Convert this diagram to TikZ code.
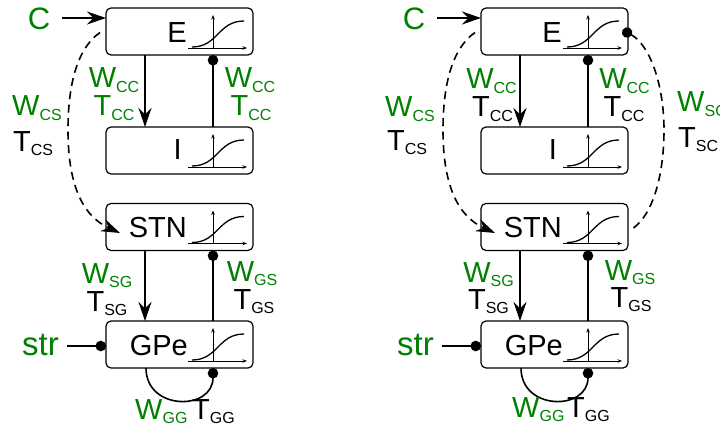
\documentclass[tikz,border=0pt]{standalone}
\usepackage{fontspec}
\setmainfont{Liberation Sans}
\usetikzlibrary{arrows.meta,calc}
\definecolor{gr}{RGB}{0,128,0}
\newcommand\subl[1]{\raisebox{-4.5pt}{\fontsize{16pt}{16pt}\selectfont #1}}
\newcommand\sigmoidin[1]{%
  \begin{scope}[shift={(#1.north west)}]
    \draw[axisl] (82,40) -- (141,40);
    \draw[axisl] (107,40) -- (107,7);
    \draw[sigl] (86,39) .. controls (112,39) and (112,13) .. (138,13);
  \end{scope}}
\begin{document}
\begin{tikzpicture}[x=1pt,y=-1pt,
  box/.style={draw,rounded corners=5pt,minimum width=147pt,minimum height=47pt,inner sep=0pt,outer sep=0pt,line width=1.2pt},
  nlab/.style={font=\fontsize{29pt}{29pt}\selectfont,inner sep=0pt,anchor=base east},
  lab/.style={font=\fontsize{29pt}{29pt}\selectfont,inner sep=0pt,anchor=base},
  big/.style={inner sep=0pt,text=gr},
  exc/.style={line width=1.6pt,-{Stealth[length=19pt,width=13pt,inset=6.5pt]}},
  inh/.style={line width=1.6pt,-{Circle[length=10.5pt]}},
  dsh/.style={line width=1.6pt,dash pattern=on 8pt off 5.5pt},
  axisl/.style={line width=0.8pt,-{Stealth[length=4.5pt,width=3.5pt]}},
  sigl/.style={line width=1.3pt}]
\clip (0,0) rectangle (720,433);
% ---------------- left panel ----------------
\node[box] (E1) at (179.5,31.5) {};
\node[box] (I1) at (179.5,150.5) {};
\node[box] (S1) at (179.5,227) {};
\node[box] (G1) at (179.5,344.5) {};
\node[nlab] (E1t) at (187,43) {E};
\node[nlab] (I1t) at (182,160) {I};
\node[nlab] (S1t) at (187,237) {STN};
\node[nlab] (G1t) at (188,355) {GPe};
\sigmoidin{E1}\sigmoidin{I1}\sigmoidin{S1}\sigmoidin{G1}
\draw[exc] ($(E1.south west)+(39,0)$) -- ($(I1.north west)+(39,0)$);
\draw[inh] ($(I1.north west)+(107,0)$) -- ($(E1.south west)+(107,0)$);
\draw[exc] ($(S1.south west)+(39,0)$) -- ($(G1.north west)+(39,0)$);
\draw[inh] ($(G1.north west)+(107,0)$) -- ($(S1.south west)+(107,0)$);
\draw[inh] ($(G1.south west)+(40,0)$) .. controls +(0,43) and +(0,43) .. ($(G1.south west)+(107,0)$);
\node[big,font=\fontsize{31pt}{31pt}\selectfont,anchor=base] (C1) at (39,30) {C};
\coordinate (C1a) at (62,18);
\draw[exc] (C1a) -- ($(E1.north west)+(0,10)$);
\node[big,font=\fontsize{33pt}{33pt}\selectfont,anchor=base east] (str1) at (59,355) {str};
\coordinate (str1a) at (67,346);
\draw[inh] (str1a) -- (G1.west |- str1a);
\draw[dsh,-{Stealth[length=19pt,width=13pt,inset=6.5pt]}] ($(E1.west)+(-6,1)$) .. controls (75,50) and (68,90) .. (68,130) .. controls (68,180) and (80,215) .. ($(S1.west)+(14,6)$);
\node[lab,anchor=base west,text=gr] (w1cs) at (12,116) {W\subl{CS}};
\node[lab,anchor=base west] (t1cs) at (13,151) {T\subl{CS}};
\node[lab,text=gr] (w1cca) at (114,88) {W\subl{CC}};
\node[lab,text=gr] (t1cca) at (114,116) {T\subl{CC}};
\node[lab,text=gr] (w1ccb) at (250,88) {W\subl{CC}};
\node[lab,text=gr] (t1ccb) at (251,116) {T\subl{CC}};
\node[lab,text=gr] (w1sg) at (107,283) {W\subl{SG}};
\node[lab] (t1sg) at (107,311) {T\subl{SG}};
\node[lab,text=gr] (w1gs) at (252,281) {W\subl{GS}};
\node[lab] (t1gs) at (254,309) {T\subl{GS}};
\node[lab,anchor=base west,text=gr] (w1gg) at (135,419) {W\subl{GG}};
\node[lab,anchor=base west] (t1gg) at (192,419) {T\subl{GG}};
% ---------------- right panel ----------------
\node[box] (E2) at (554.5,31.5) {};
\node[box] (I2) at (554.5,150.5) {};
\node[box] (S2) at (554.5,227) {};
\node[box] (G2) at (554.5,344.5) {};
\node[nlab] (E2t) at (562,43) {E};
\node[nlab] (I2t) at (557,160) {I};
\node[nlab] (S2t) at (562,237) {STN};
\node[nlab] (G2t) at (563,355) {GPe};
\sigmoidin{E2}\sigmoidin{I2}\sigmoidin{S2}\sigmoidin{G2}
\draw[exc] ($(E2.south west)+(39,0)$) -- ($(I2.north west)+(39,0)$);
\draw[inh] ($(I2.north west)+(107,0)$) -- ($(E2.south west)+(107,0)$);
\draw[exc] ($(S2.south west)+(39,0)$) -- ($(G2.north west)+(39,0)$);
\draw[inh] ($(G2.north west)+(107,0)$) -- ($(S2.south west)+(107,0)$);
\draw[inh] ($(G2.south west)+(40,0)$) .. controls +(0,43) and +(0,43) .. ($(G2.south west)+(107,0)$);
\node[big,font=\fontsize{31pt}{31pt}\selectfont,anchor=base] (C2) at (414,30) {C};
\coordinate (C2a) at (437,18);
\draw[exc] (C2a) -- ($(E2.north west)+(0,10)$);
\node[big,font=\fontsize{33pt}{33pt}\selectfont,anchor=base east] (str2) at (434,355) {str};
\coordinate (str2a) at (442,346);
\draw[inh] (str2a) -- (G2.west |- str2a);
\draw[dsh,-{Stealth[length=19pt,width=13pt,inset=6.5pt]}] ($(E2.west)+(-6,1)$) .. controls (450,50) and (443,90) .. (443,130) .. controls (443,180) and (455,215) .. ($(S2.west)+(14,6)$);
\draw[dsh,-{Circle[length=10.5pt]}] ($(S2.east)+(5.5,1)$) .. controls (655,212) and (664,170) .. (664,130) .. controls (664,85) and (650,45) .. ($(E2.east)+(-5.5,-1.5)$);
\node[lab,anchor=base west,text=gr] (w2cs) at (385,117) {W\subl{CS}};
\node[lab,anchor=base west] (t2cs) at (387,150) {T\subl{CS}};
\node[lab,text=gr] (w2cca) at (491.5,89) {W\subl{CC}};
\node[lab] (t2cca) at (492.5,117) {T\subl{CC}};
\node[lab,text=gr] (w2ccb) at (624.5,89) {W\subl{CC}};
\node[lab] (t2ccb) at (624,117) {T\subl{CC}};
\node[lab,anchor=base west,text=gr] (w2sc) at (677,112) {W\subl{SC}};
\node[lab,anchor=base west] (t2sc) at (678,147) {T\subl{SC}};
\node[lab,text=gr] (w2sg) at (488.5,282) {W\subl{SG}};
\node[lab] (t2sg) at (488.5,309) {T\subl{SG}};
\node[lab,text=gr] (w2gs) at (630,280) {W\subl{GS}};
\node[lab] (t2gs) at (631,307) {T\subl{GS}};
\node[lab,anchor=base west,text=gr] (w2gg) at (512,417) {W\subl{GG}};
\node[lab,anchor=base west] (t2gg) at (567,417) {T\subl{GG}};
\end{tikzpicture}
\end{document}
